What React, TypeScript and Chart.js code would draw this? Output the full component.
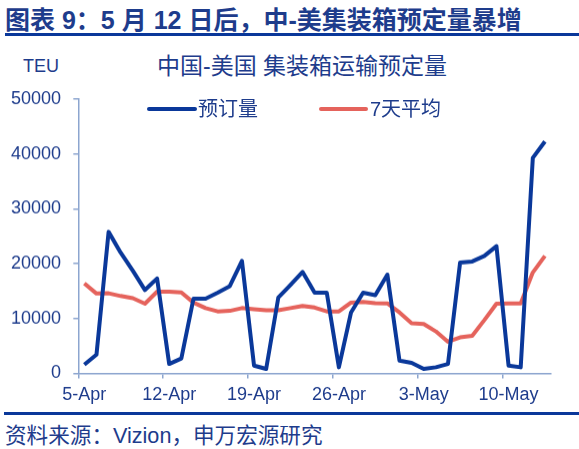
import React, { useEffect, useRef } from "react";
import { Chart, registerables } from "chart.js";

Chart.register(...registerables);

// daily categories, 5 Apr to 13 May
const days = [
  "5-Apr", "6-Apr", "7-Apr", "8-Apr", "9-Apr", "10-Apr", "11-Apr",
  "12-Apr", "13-Apr", "14-Apr", "15-Apr", "16-Apr", "17-Apr", "18-Apr",
  "19-Apr", "20-Apr", "21-Apr", "22-Apr", "23-Apr", "24-Apr", "25-Apr",
  "26-Apr", "27-Apr", "28-Apr", "29-Apr", "30-Apr", "1-May", "2-May",
  "3-May", "4-May", "5-May", "6-May", "7-May", "8-May", "9-May",
  "10-May", "11-May", "12-May", "13-May",
];

const bookings = [
  1580, 3400, 25800, 22000, 18700, 15200, 17300, 1700, 2700, 13600,
  13600, 14700, 15900, 20500, 1400, 800, 13800, 16100, 18500, 14700,
  14700, 1100, 11100, 14700, 14250, 18000, 2300, 1900, 800, 1100,
  1700, 20200, 20400, 21400, 23200, 1400, 1100, 39300, 42300,
];

const avg7 = [
  16400, 14550, 14600, 14100, 13700, 12700, 14900, 14900, 14750, 12900,
  11900, 11300, 11400, 11900, 11700, 11500, 11500, 11900, 12300, 12000,
  11300, 11300, 12900, 13000, 12800, 12750, 11100, 9150, 9000, 7650,
  5750, 6550, 6850, 9700, 12700, 12750, 12750, 18400, 21400,
];

const yTicks = [0, 10000, 20000, 30000, 40000, 50000];

const NAVY = "#1E3C8C";
const BLUE = "#0A389A";
const RED = "#E5635C";
const AXIS = "#8CA5CF";
const LATIN = '"Liberation Sans", Arial, sans-serif';
const CJK = '"Liberation Sans", "Noto Sans CJK SC", sans-serif';

const Text = ({
  left,
  cy,
  size,
  bold = false,
  children,
}: {
  left: number;
  cy: number;
  size: number;
  bold?: boolean;
  children: React.ReactNode;
}) => (
  <div
    style={{
      position: "absolute",
      left,
      top: cy - size / 2,
      height: size,
      lineHeight: `${size}px`,
      fontSize: size,
      fontWeight: bold ? 700 : 400,
      fontFamily: CJK,
      color: NAVY,
      whiteSpace: "nowrap",
    }}
  >
    {children}
  </div>
);

const App: React.FC = () => {
  const chartRef = useRef<HTMLCanvasElement>(null);
  const chartInstance = useRef<Chart | null>(null);

  useEffect(() => {
    if (!chartRef.current) return;
    const ctx = chartRef.current.getContext("2d");
    if (!ctx) return;

    chartInstance.current = new Chart(ctx, {
      type: "line",
      data: {
        labels: days,
        datasets: [
          {
            label: "预订量",
            data: bookings,
            borderColor: BLUE,
            backgroundColor: BLUE,
            borderWidth: 4,
            pointRadius: 0,
            tension: 0,
            borderJoinStyle: "round",
          },
          {
            label: "7天平均",
            data: avg7,
            borderColor: RED,
            backgroundColor: RED,
            borderWidth: 4,
            pointRadius: 0,
            tension: 0,
            borderJoinStyle: "round",
          },
        ],
      },
      options: {
        animation: false,
        responsive: true,
        maintainAspectRatio: false,
        layout: { padding: { top: 8.3, right: 28, left: 0, bottom: 0 } },
        plugins: {
          legend: { display: false },
          tooltip: { enabled: false },
          title: { display: false },
        },
        scales: {
          x: {
            type: "category",
            offset: true,
            afterFit: (s: any) => {
              s.height = 37.3;
            },
            grid: {
              offset: true,
              drawOnChartArea: false,
              drawTicks: true,
              tickLength: 5,
              lineWidth: 1.5,
              color: (c: any) => (c.index % 7 === 0 ? AXIS : "rgba(0,0,0,0)"),
            },
            border: { color: AXIS, width: 1.5 },
            ticks: {
              autoSkip: false,
              maxRotation: 0,
              minRotation: 0,
              padding: 6,
              color: NAVY,
              font: { size: 18, family: LATIN },
              callback: (_v: any, i: number) => (i % 7 === 0 ? days[i] : ""),
            },
          },
          y: {
            min: yTicks[0],
            max: yTicks[yTicks.length - 1],
            afterFit: (s: any) => {
              s.width = 78.3;
            },
            afterBuildTicks: (s: any) => {
              s.ticks = yTicks.map((v) => ({ value: v }));
            },
            grid: {
              drawOnChartArea: false,
              drawTicks: true,
              tickLength: 5,
              lineWidth: 1.5,
              color: AXIS,
            },
            border: { color: AXIS, width: 1.5 },
            ticks: {
              padding: 12.3,
              color: NAVY,
              font: { size: 18, family: LATIN },
              callback: (v: any) => String(v),
            },
          },
        },
      },
    });

    return () => {
      if (chartInstance.current) {
        chartInstance.current.destroy();
        chartInstance.current = null;
      }
    };
  }, []);

  return (
    <div
      style={{
        position: "absolute",
        left: 0,
        top: 0,
        width: 579,
        height: 449,
        background: "#fff",
        overflow: "hidden",
      }}
    >
      <Text left={5} cy={20} size={25} bold>
        图表 9：5 月 12 日后，中-美集装箱预定量暴增
      </Text>
      <div
        style={{
          position: "absolute",
          left: 5,
          top: 33.3,
          width: 574,
          height: 2.8,
          background: BLUE,
        }}
      />

      <Text left={23} cy={66} size={18}>
        TEU
      </Text>
      <Text left={157} cy={66.5} size={23}>
        中国-美国 集装箱运输预定量
      </Text>

      <div
        style={{
          position: "absolute",
          left: 0,
          top: 76.3,
          width: 579,
          height: 333.7,
        }}
      >
        <canvas ref={chartRef}></canvas>
      </div>

      {/* legend */}
      <div
        style={{
          position: "absolute",
          left: 147,
          top: 107,
          width: 50,
          height: 4,
          background: BLUE,
          borderRadius: 2,
        }}
      />
      <Text left={198} cy={109} size={20}>
        预订量
      </Text>
      <div
        style={{
          position: "absolute",
          left: 319,
          top: 107,
          width: 49,
          height: 4,
          background: RED,
          borderRadius: 2,
        }}
      />
      <Text left={370} cy={109} size={20}>
        7天平均
      </Text>

      <div
        style={{
          position: "absolute",
          left: 4,
          top: 411.8,
          width: 575,
          height: 3,
          background: BLUE,
        }}
      />
      <Text left={5} cy={436} size={21.6}>
        资料来源：Vizion，申万宏源研究
      </Text>
    </div>
  );
};

export default App;
